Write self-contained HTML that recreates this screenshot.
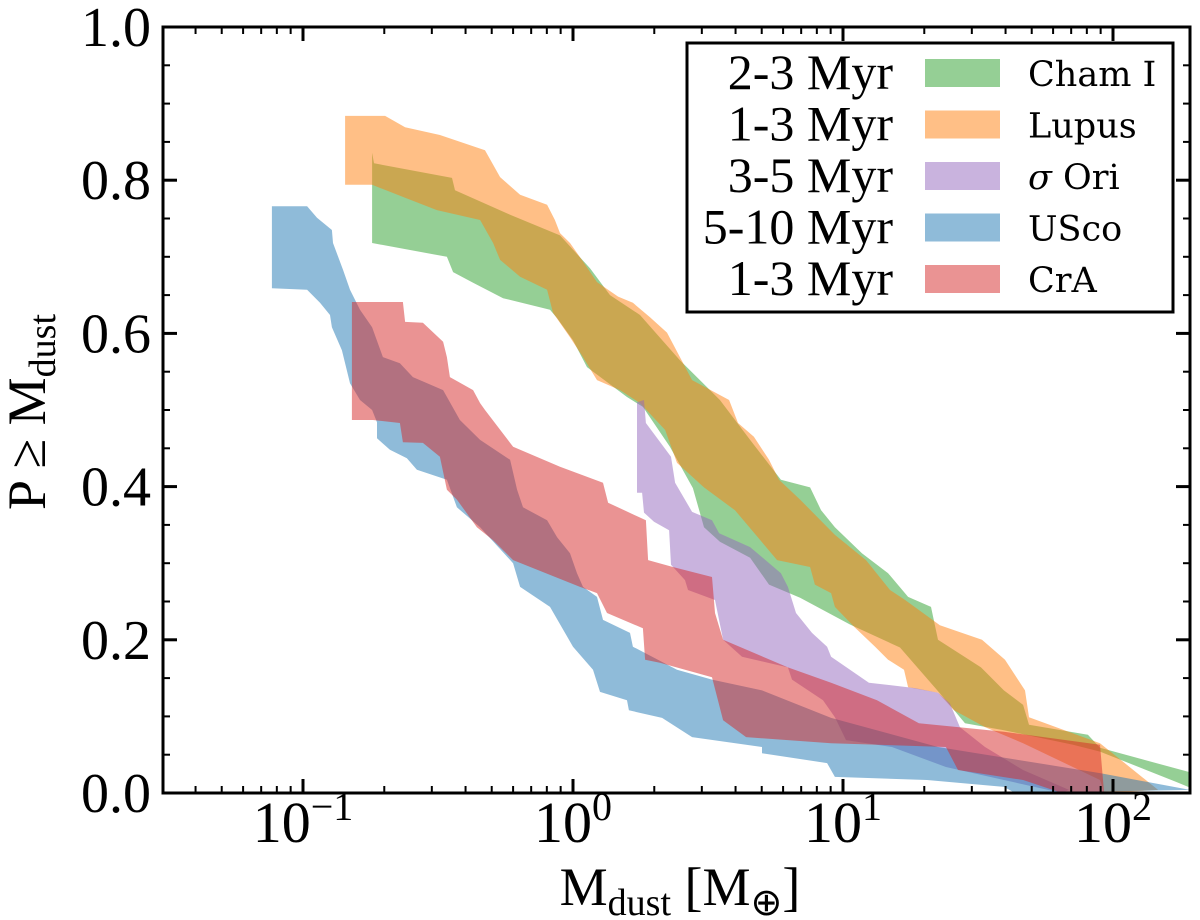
<!DOCTYPE html>
<html><head><meta charset="utf-8">
<style>
html,body{margin:0;padding:0;background:#fff;}
svg{display:block;}
</style></head>
<body>
<svg id="chart" width="1200" height="920" viewBox="0 0 1200 920" xmlns="http://www.w3.org/2000/svg">
<defs><clipPath id="plotclip"><rect x="163" y="27" width="1027" height="766"/></clipPath></defs>
<g id="bands" clip-path="url(#plotclip)"></g>
<g id="axes"></g>
<rect x="163" y="27" width="1027" height="766" fill="none" stroke="#000" stroke-width="3"/>
<text x="680" y="905" font-family="Liberation Serif, serif" font-size="54" text-anchor="middle">M<tspan font-size="38" dy="10">dust</tspan><tspan dy="-10"> [M</tspan><tspan font-size="38" dy="10">⊕</tspan><tspan dy="-10">]</tspan></text>
<text transform="translate(45,412) rotate(-90)" font-family="Liberation Serif, DejaVu Serif, serif" font-size="54" text-anchor="middle">P ≥ M<tspan font-size="38" dy="10">dust</tspan></text>
<g>
<rect x="687" y="43" width="486" height="269" fill="#fff" stroke="#000" stroke-width="3"/>
<g id="legend-items"></g>
</g>
</svg>
<script>
// ---- data (log10 Mdust, P) ----
const seriesNames = ["Cham I","Lupus","σ Ori","USco","CrA"];
const seriesAges = ["2-3 Myr","1-3 Myr","3-5 Myr","5-10 Myr","1-3 Myr"];
const seriesColors = ["#2ca02c","#ff7f0e","#9467bd","#1f77b4","#d62728"];

const chamUpperX = [-0.744,-0.737,-0.448,-0.437,-0.233,-0.048,0.063,0.137,0.248,0.396,0.544,0.656,0.770,0.878,0.919,0.970,1.070,1.167,1.241,1.326,1.352,1.511,1.596,1.667,1.689,1.907,1.952,2.285];
const chamUpperP = [0.836,0.822,0.803,0.787,0.755,0.728,0.685,0.650,0.624,0.565,0.513,0.461,0.409,0.399,0.369,0.347,0.313,0.287,0.256,0.243,0.200,0.164,0.134,0.115,0.089,0.076,0.059,0.027];
const chamLowerX = [-0.744,-0.467,-0.444,-0.370,-0.259,-0.085,-0.059,0.000,0.052,0.200,0.259,0.359,0.444,0.485,0.544,0.656,0.726,0.841,1.026,1.211,1.381,1.452,1.596,1.852,1.952,2.237,2.285];
const chamLowerP = [0.718,0.700,0.680,0.666,0.646,0.631,0.620,0.591,0.556,0.517,0.504,0.452,0.398,0.347,0.328,0.307,0.272,0.255,0.220,0.190,0.121,0.091,0.082,0.063,0.054,0.014,0.007];

const lupusUpperX = [-0.844,-0.696,-0.622,-0.493,-0.326,-0.270,-0.196,-0.096,-0.067,-0.048,-0.011,0.033,0.089,0.167,0.222,0.285,0.348,0.441,0.578,0.611,0.670,0.726,0.763,0.841,0.970,1.085,1.174,1.230,1.359,1.515,1.600,1.674,1.689,1.952,2.167];
const lupusUpperP = [0.884,0.884,0.869,0.859,0.839,0.804,0.781,0.768,0.748,0.731,0.718,0.696,0.667,0.648,0.640,0.621,0.601,0.539,0.513,0.483,0.465,0.435,0.409,0.383,0.337,0.304,0.265,0.252,0.219,0.200,0.174,0.134,0.099,0.065,0.004];
const lupusLowerX = [-0.844,-0.744,-0.622,-0.504,-0.344,-0.296,-0.270,-0.196,-0.096,-0.074,-0.011,0.037,0.089,0.174,0.248,0.341,0.385,0.485,0.600,0.756,0.878,0.896,0.956,0.970,1.041,1.119,1.167,1.226,1.241,1.352,1.411,1.526,1.667,1.952,1.967];
const lupusLowerP = [0.794,0.794,0.777,0.761,0.748,0.718,0.696,0.674,0.657,0.627,0.595,0.569,0.539,0.526,0.509,0.474,0.431,0.399,0.369,0.304,0.295,0.272,0.261,0.243,0.217,0.191,0.174,0.161,0.138,0.131,0.108,0.086,0.065,0.017,0.000];

const oriUpperX = [0.237,0.263,0.270,0.363,0.378,0.441,0.515,0.541,0.656,0.770,0.796,0.826,0.885,0.941,0.956,1.096,1.267,1.352,1.396,1.433,1.526,1.667,1.837];
const oriUpperP = [0.510,0.513,0.483,0.439,0.405,0.367,0.356,0.339,0.321,0.287,0.269,0.235,0.209,0.191,0.178,0.144,0.137,0.131,0.117,0.086,0.060,0.030,0.004];
const oriLowerX = [0.237,0.237,0.256,0.263,0.300,0.356,0.363,0.415,0.426,0.526,0.556,0.626,0.796,0.811,0.926,0.970,1.011,1.181,1.381,1.596,1.811];
const oriLowerP = [0.510,0.392,0.392,0.366,0.354,0.343,0.298,0.278,0.265,0.252,0.200,0.178,0.164,0.148,0.121,0.099,0.069,0.060,0.034,0.017,0.000];

const uscoUpperX = [-1.115,-0.985,-0.948,-0.893,-0.889,-0.852,-0.826,-0.789,-0.744,-0.704,-0.641,-0.593,-0.481,-0.419,-0.344,-0.233,-0.207,-0.185,-0.096,-0.059,-0.011,0.015,0.037,0.089,0.111,0.211,0.222,0.385,0.515,0.700,0.956,1.352,1.952,2.285];
const uscoUpperP = [0.766,0.766,0.751,0.735,0.718,0.683,0.657,0.631,0.608,0.569,0.561,0.543,0.526,0.487,0.461,0.435,0.396,0.373,0.356,0.334,0.313,0.287,0.269,0.256,0.226,0.209,0.191,0.161,0.148,0.134,0.098,0.060,0.026,0.004];
const uscoLowerX = [-1.115,-0.985,-0.937,-0.900,-0.893,-0.856,-0.826,-0.789,-0.744,-0.726,-0.726,-0.678,-0.615,-0.578,-0.467,-0.430,-0.344,-0.222,-0.196,-0.085,0.000,0.074,0.100,0.200,0.207,0.330,0.441,0.700,0.700,0.941,0.970,1.311,1.596,1.637];
const uscoLowerP = [0.659,0.657,0.640,0.624,0.608,0.578,0.535,0.513,0.500,0.484,0.463,0.448,0.437,0.422,0.409,0.373,0.347,0.300,0.269,0.243,0.191,0.161,0.132,0.121,0.108,0.098,0.073,0.060,0.052,0.039,0.021,0.017,0.008,0.000];

const craUpperX = [-0.819,-0.630,-0.622,-0.556,-0.481,-0.467,-0.456,-0.370,-0.344,-0.326,-0.222,-0.048,0.111,0.130,0.270,0.278,0.370,0.515,0.526,0.556,0.796,0.956,1.126,1.281,1.426,1.596,1.952,1.967];
const craUpperP = [0.641,0.641,0.615,0.614,0.589,0.569,0.543,0.526,0.509,0.500,0.452,0.426,0.405,0.379,0.356,0.304,0.295,0.282,0.235,0.200,0.164,0.144,0.121,0.091,0.086,0.080,0.063,0.000];
const craLowerX = [-0.819,-0.741,-0.641,-0.630,-0.556,-0.493,-0.467,-0.430,-0.356,-0.296,-0.222,0.026,0.089,0.126,0.259,0.267,0.322,0.515,0.556,0.641,0.956,1.381,1.426,1.667,1.811];
const craLowerP = [0.487,0.487,0.483,0.458,0.457,0.439,0.396,0.383,0.347,0.330,0.304,0.269,0.261,0.235,0.215,0.174,0.170,0.151,0.095,0.073,0.065,0.060,0.030,0.017,0.000];

const xMajorTicks = [-1,0,1,2];
const xTickLabels = ["10","10","10","10"];
const xTickExps = ["−1","0","1","2"];
const yMajorTicks = [0,0.2,0.4,0.6,0.8,1.0];
const yTickLabels = ["0.0","0.2","0.4","0.6","0.8","1.0"];

// ---- axes ----
const PX0=163, PX1=1190, PY0=27, PY1=793;
const X = lx => 573 + lx*270;
const Y = p => 793 - p*766;
const NS="http://www.w3.org/2000/svg";
function mk(tag, attrs, parent){const e=document.createElementNS(NS,tag);for(const k in attrs)e.setAttribute(k,attrs[k]);parent.appendChild(e);return e;}

const bands=document.getElementById('bands');
const bandData=[[chamUpperX,chamUpperP,chamLowerX,chamLowerP],[lupusUpperX,lupusUpperP,lupusLowerX,lupusLowerP],[oriUpperX,oriUpperP,oriLowerX,oriLowerP],[uscoUpperX,uscoUpperP,uscoLowerX,uscoLowerP],[craUpperX,craUpperP,craLowerX,craLowerP]];
const bandNames=["band-cham-i","band-lupus","band-sigma-ori","band-usco","band-cra"];
bandData.forEach((b,i)=>{
  const pts=[];
  for(let j=0;j<b[0].length;j++)pts.push(X(b[0][j]).toFixed(1)+","+Y(b[1][j]).toFixed(1));
  for(let j=b[2].length-1;j>=0;j--)pts.push(X(b[2][j]).toFixed(1)+","+Y(b[3][j]).toFixed(1));
  const poly=mk('polygon',{points:pts.join(" "),fill:seriesColors[i],'fill-opacity':0.5},bands);
  
  
});

const axes=document.getElementById('axes');
for(let d=-2;d<=2;d++){
  for(let k=1;k<=9;k++){
    const lx=d+Math.log10(k);
    if(lx< -1.52||lx>2.285)continue;
    const len=k===1?14:7;
    const px=X(lx);
    const t1=mk('line',{x1:px,x2:px,y1:PY1,y2:PY1-len,stroke:'#000','stroke-width':k===1?3:2},axes);
    
    
    const t2=mk('line',{x1:px,x2:px,y1:PY0,y2:PY0+len,stroke:'#000','stroke-width':k===1?3:2},axes);
    
    
  }
}
xMajorTicks.forEach((v,i)=>{
  const t=mk('text',{x:X(v),y:842,'font-family':'Liberation Serif, serif','font-size':58,'text-anchor':'middle'},axes);
  t.textContent=xTickLabels[i];
  const s=mk('tspan',{'font-size':40,dy:-22},t);
  s.textContent=xTickExps[i];
  
  
});
for(let i=0;i<=20;i++){
  const p=i*0.05, py=Y(p), major=i%4===0;
  const len=major?14:7;
  const a=mk('line',{x1:PX0,x2:PX0+len,y1:py,y2:py,stroke:'#000','stroke-width':major?3:2},axes);
  
  
  const b=mk('line',{x1:PX1,x2:PX1-len,y1:py,y2:py,stroke:'#000','stroke-width':major?3:2},axes);
  
  
}
yMajorTicks.forEach((v,i)=>{
  const t=mk('text',{x:151,y:Y(v)+19,'font-family':'Liberation Serif, serif','font-size':56,'text-anchor':'end'},axes);
  t.textContent=yTickLabels[i];
  
  
});
const lg=document.getElementById('legend-items');
seriesNames.forEach((n,i)=>{
  const cy=73+i*51.5;
  const g=mk('g',{},lg);
  
  
  const a=mk('text',{x:893,y:cy+16,'font-family':'Liberation Serif, serif','font-size':50,'text-anchor':'end'},g);
  a.textContent=seriesAges[i];
  const r=mk('rect',{x:925,y:cy-14,width:75,height:28,fill:seriesColors[i],'fill-opacity':0.5},g);
  
  
  const l=mk('text',{x:1028,y:cy+13,'font-family':'DejaVu Serif, serif','font-size':35},g);
  if(i===2){const s=mk('tspan',{'font-style':'italic'},l);s.textContent='σ';const s2=mk('tspan',{},l);s2.textContent=' Ori';}
  else l.textContent=n;
});
</script>
</body></html>
